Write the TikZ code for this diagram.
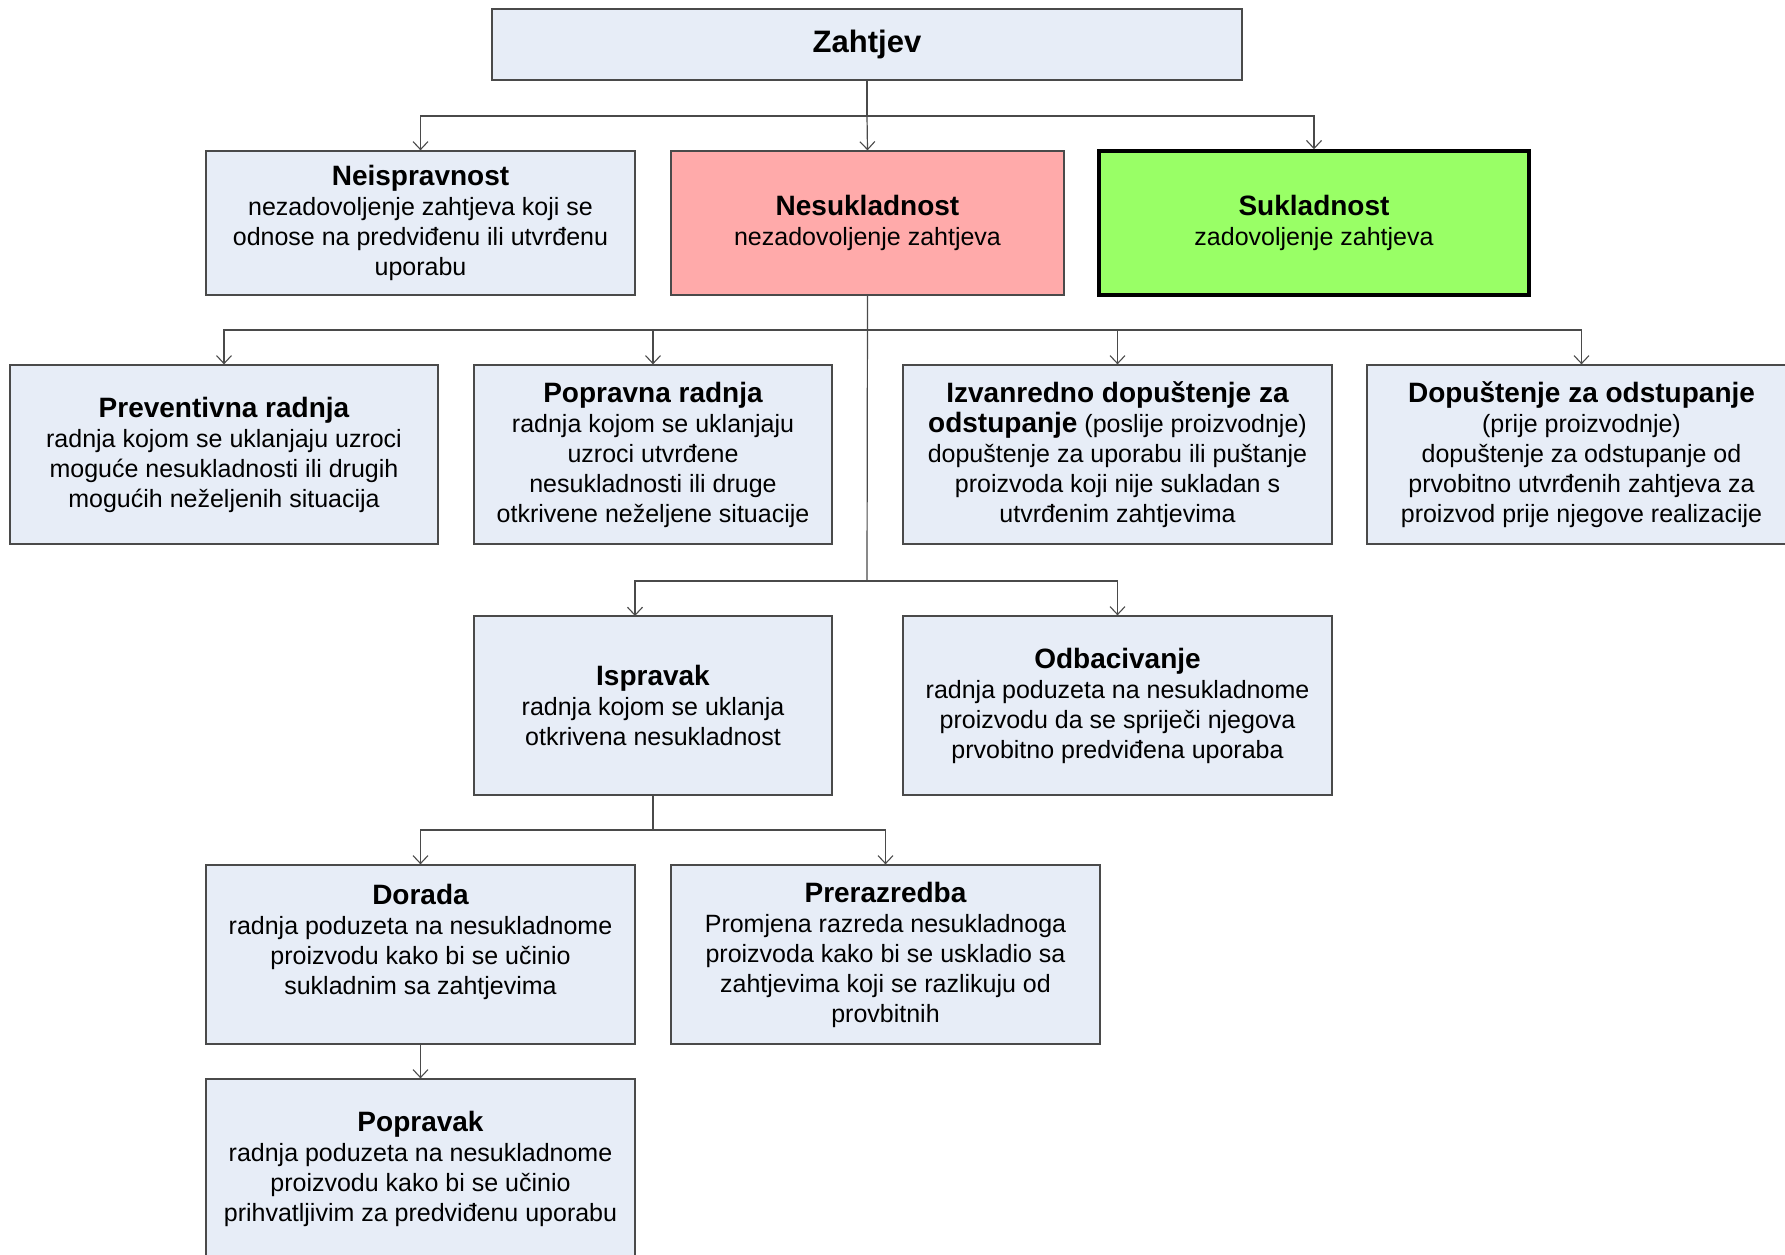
\documentclass[tikz,border=0pt]{standalone}
\usepackage{fontspec}
\setmainfont{Liberation Sans}
\usetikzlibrary{arrows.meta}
\definecolor{boxblue}{HTML}{E7EDF7}
\definecolor{boxpink}{HTML}{FFAAAA}
\definecolor{boxgreen}{HTML}{99FF66}
\definecolor{edgegray}{HTML}{4A4A4A}
\newcommand\ttl[1]{{\fontsize{28}{31}\selectfont\bfseries #1}}
\tikzset{
  stdbox/.style={draw=edgegray, line width=1.3pt, fill=boxblue, inner sep=0pt,
    minimum height=179pt, align=center, font=\fontsize{25}{30}\selectfont},
  conn/.style={draw=edgegray, line width=1.2pt},
  arr/.style={conn, -{Straight Barb[length=8pt,width=15pt,line width=1.1pt]}}
}
\begin{document}
\begin{tikzpicture}[x=1pt,y=-1pt]
\useasboundingbox (0,0) rectangle (1785,1254);
\clip (0,0) rectangle (1785,1254);
\fill[white] (0,0) rectangle (1785,1254);

% row 1
\node[stdbox, minimum width=750pt, minimum height=71pt] (zah) at (867,44.5)
  {\raisebox{-2pt}{\fontsize{31}{34}\selectfont\bfseries Zahtjev}};
% row 2
\node[stdbox, minimum width=429pt, minimum height=144pt] (neis) at (420.5,223)
  {\ttl{Neispravnost}\\nezadovoljenje zahtjeva koji se\\odnose na predviđenu ili utvrđenu\\uporabu};
\node[stdbox, fill=boxpink, minimum width=393pt, minimum height=144pt] (nesuk) at (867.5,223)
  {\ttl{Nesukladnost}\\nezadovoljenje zahtjeva};
\node[stdbox, fill=boxgreen, draw=black, line width=3.5pt, minimum width=430pt, minimum height=144pt] (suk) at (1314,223)
  {\ttl{Sukladnost}\\zadovoljenje zahtjeva};
% row 3
\node[stdbox, minimum width=428pt] (prev) at (224,454.5)
  {\ttl{Preventivna radnja}\\radnja kojom se uklanjaju uzroci\\moguće nesukladnosti ili drugih\\mogućih neželjenih situacija};
\node[stdbox, minimum width=358pt] (popr) at (653,454.5)
  {\ttl{Popravna radnja}\\radnja kojom se uklanjaju\\uzroci utvrđene\\nesukladnosti ili druge\\otkrivene neželjene situacije};
\node[stdbox, minimum width=429pt] (izv) at (1117.5,454.5)
  {\ttl{Izvanredno dopuštenje za}\\\ttl{odstupanje} (poslije proizvodnje)\\dopuštenje za uporabu ili puštanje\\proizvoda koji nije sukladan s\\utvrđenim zahtjevima};
\node[stdbox, minimum width=429pt] (dop) at (1581.5,454.5)
  {\ttl{Dopuštenje za odstupanje}\\(prije proizvodnje)\\dopuštenje za odstupanje od\\prvobitno utvrđenih zahtjeva za\\proizvod prije njegove realizacije};
% row 4
\node[stdbox, minimum width=358pt] (isp) at (653,705.5)
  {\ttl{Ispravak}\\radnja kojom se uklanja\\otkrivena nesukladnost};
\node[stdbox, minimum width=429pt] (odb) at (1117.5,705.5)
  {\ttl{Odbacivanje}\\radnja poduzeta na nesukladnome\\proizvodu da se spriječi njegova\\prvobitno predviđena uporaba};
% row 5
\node[stdbox, minimum width=429pt] (dor) at (420.5,954.5)
  {\ttl{Dorada}\\radnja poduzeta na nesukladnome\\proizvodu kako bi se učinio\\sukladnim sa zahtjevima\\\mbox{}};
\node[stdbox, minimum width=429pt] (prer) at (885.5,954.5)
  {\ttl{Prerazredba}\\Promjena razreda nesukladnoga\\proizvoda kako bi se uskladio sa\\zahtjevima koji se razlikuju od\\provbitnih};
% row 6
\node[stdbox, minimum width=429pt] (pop) at (420.5,1168.5)
  {\ttl{Popravak}\\radnja poduzeta na nesukladnome\\proizvodu kako bi se učinio\\prihvatljivim za predviđenu uporabu};

% connectors
\coordinate (j1) at (867,116);
\draw[conn] (zah.south) -- (j1);
\draw[arr] (j1) -| (neis.north);
\draw[arr] (j1) -- (nesuk.north);
\draw[arr] (j1) -| (suk.north);

\coordinate (j2) at (867,330);
\coordinate (j3) at (867,581);
\draw[conn] (nesuk.south) -- (j3);
\draw[arr] (j2) -| (prev.north);
\draw[arr] (j2) -| (popr.north);
\draw[arr] (j2) -| (izv.north);
\draw[arr] (j2) -| (dop.north);
\coordinate (ispin) at (635,616);
\draw[arr] (j3) -| (ispin);
\draw[arr] (j3) -| (odb.north);

\coordinate (j4) at (653,830);
\draw[conn] (isp.south) -- (j4);
\draw[arr] (j4) -| (dor.north);
\draw[arr] (j4) -| (prer.north);

\draw[arr] (dor.south) -- (pop.north);
\end{tikzpicture}
\end{document}
